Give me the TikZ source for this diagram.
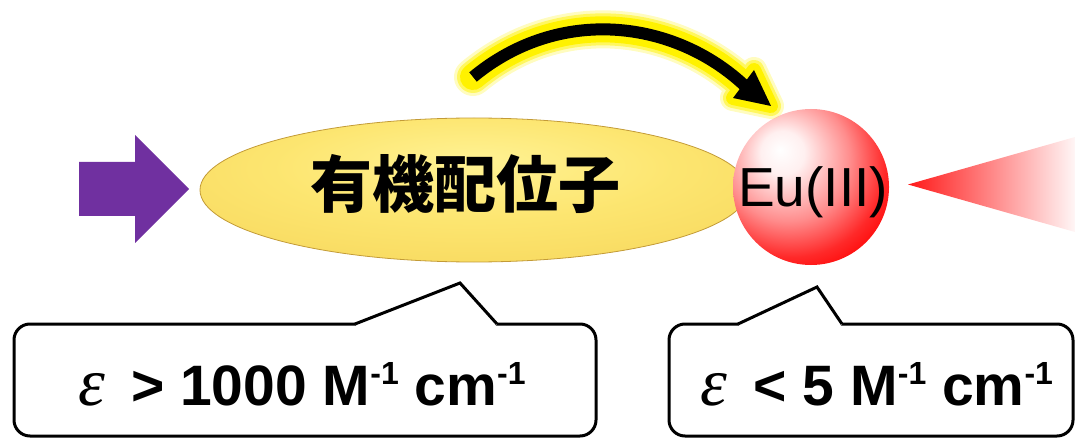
\documentclass[tikz,border=0pt]{standalone}
\usepackage{fontspec}
\setmainfont{Liberation Sans}
\newfontfamily\cjkfont{Noto Sans CJK JP}
\newfontfamily\greekit{Liberation Serif}
\usetikzlibrary{shapes.geometric,calc}
\definecolor{purplearrow}{RGB}{112,48,160}
\definecolor{edgegold}{RGB}{195,155,55}
\pgfdeclareradialshading{ligshade}{\pgfpoint{0bp}{10bp}}{rgb(0bp)=(1,0.95,0.58); rgb(18bp)=(0.99,0.9,0.44); rgb(36bp)=(0.97,0.85,0.37); rgb(46bp)=(0.92,0.77,0.29); rgb(54bp)=(0.78,0.62,0.2); rgb(80bp)=(0.75,0.6,0.2)}
\pgfdeclareradialshading{eushade}{\pgfpoint{-10bp}{12bp}}{rgb(0bp)=(1,1,1); rgb(7bp)=(1,0.94,0.94); rgb(20bp)=(1,0.55,0.55); rgb(30bp)=(1,0.16,0.16); rgb(37bp)=(1,0,0); rgb(80bp)=(0.95,0,0)}
\newcommand{\supmone}{\raisebox{21pt}{\fontsize{32}{32}\selectfont -1}}
\tikzset{
  calloutbox/.style={draw=black, line width=3pt, rounded corners=16pt, fill=white, inner sep=0pt},
  callouttext/.style={anchor=base, inner sep=0pt, font=\fontsize{57}{57}\selectfont},
  pointer/.style={draw=black, line width=3pt, line join=miter},
  glowline/.style={draw=yellow, line width=#1, line cap=round, line join=round},
  glowhead/.style={draw=yellow, fill=yellow, line width=#1, line join=round},
}
\begin{document}
\begin{tikzpicture}[x=1pt,y=-1pt]
\useasboundingbox (0,0) rectangle (1075,438);
% purple incoming arrow
\fill[purplearrow] (79,162) -- (135,162) -- (135,135) -- (189,189) -- (135,243) -- (135,216) -- (79,216) -- cycle;
% ligand ellipse
\node[ellipse, minimum width=548pt, minimum height=144pt, inner sep=0pt, shading=ligshade, draw=edgegold, line width=0.8pt] (lig) at (474,190) {};
\node[anchor=base, inner sep=0pt, font=\cjkfont\bfseries\fontsize{62}{62}\selectfont] (ligtext) at (465,208) {有機配位子};
% Eu sphere
\node[circle, minimum size=156pt, inner sep=0pt, shading=eushade] (eu) at (811,187) {};
\node[anchor=base west, inner sep=0pt, font=\fontsize{55}{55}\selectfont] (eutext) at (738,207) {Eu(III)};
% emission cone
\coordinate (conetip) at (908,184.5);
\coordinate (conetop) at (1075,137);
\coordinate (conebot) at (1075,232);
\shade[left color={rgb,255:red,255;green,25;blue,25}, right color={rgb,255:red,255;green,246;blue,246}] (conetip) -- (conetop) -- (conebot) -- cycle;
% energy transfer arrow
\coordinate (as) at (473,77);
\coordinate (am) at (745,86);
\coordinate (at) at (771,106);
\coordinate (ab1) at (733,98);
\coordinate (ab2) at (754,70);
\begin{scope}[transparency group, opacity=0.25]
  \draw[glowline=38pt] (as) .. controls (560,5) and (675,20) .. (am);
  \filldraw[glowhead=26pt] (at) -- (ab1) -- (ab2) -- cycle;
\end{scope}
\begin{scope}[transparency group, opacity=0.5]
  \draw[glowline=32pt] (as) .. controls (560,5) and (675,20) .. (am);
  \filldraw[glowhead=20pt] (at) -- (ab1) -- (ab2) -- cycle;
\end{scope}
\draw[glowline=26pt] (as) .. controls (560,5) and (675,20) .. (am);
\filldraw[glowhead=14pt] (at) -- (ab1) -- (ab2) -- cycle;
\draw[black, line width=12pt] (as) .. controls (560,5) and (675,20) .. (am);
\fill[black] (at) -- (ab1) -- (ab2) -- cycle;
% left callout
\node[calloutbox, minimum width=582pt, minimum height=112pt] (lbox) at (305,380) {};
\coordinate (lp1) at (355,324);
\coordinate (lpa) at (460,283);
\coordinate (lp2) at (497,324);
\fill[white] ($(lp1)+(1.5,2)$) -- (lp1) -- (lpa) -- (lp2) -- ($(lp2)+(-1.5,2)$) -- cycle;
\draw[pointer] (lp1) -- (lpa) -- (lp2);
\node[callouttext] (ltext) at (302,405) {{\greekit\itshape\fontsize{68}{68}\selectfont ε}\hspace{26pt}{\bfseries > 1000 M\supmone{} cm\supmone}};
% right callout
\node[calloutbox, minimum width=404pt, minimum height=112pt] (rbox) at (871,380) {};
\coordinate (rp1) at (738,324);
\coordinate (rpa) at (817,287);
\coordinate (rp2) at (842,324);
\fill[white] ($(rp1)+(1.5,2)$) -- (rp1) -- (rpa) -- (rp2) -- ($(rp2)+(-1.5,2)$) -- cycle;
\draw[pointer] (rp1) -- (rpa) -- (rp2);
\node[callouttext] (rtext) at (877,405) {{\greekit\itshape\fontsize{68}{68}\selectfont ε}\hspace{26pt}{\bfseries < 5 M\supmone{} cm\supmone}};
\end{tikzpicture}
\end{document}
